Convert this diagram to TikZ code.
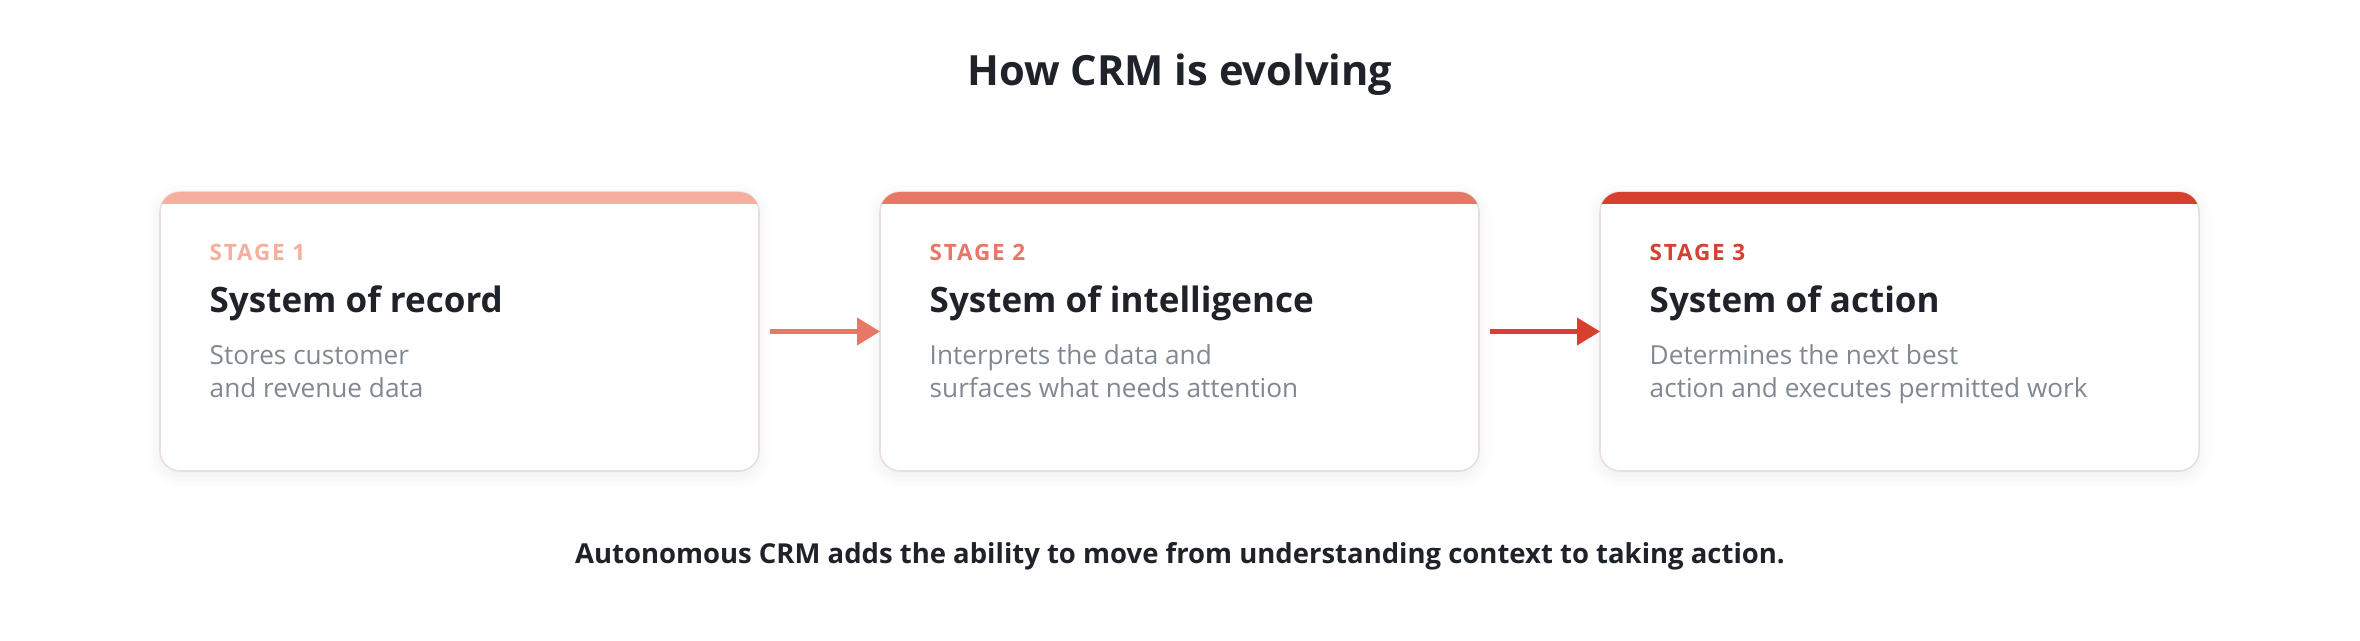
\documentclass[tikz,border=0pt]{standalone}
\usepackage{fontspec}
\setmainfont{Open Sans}
\definecolor{stageone}{RGB}{246, 175, 159}
\definecolor{stagetwo}{RGB}{231, 119, 103}
\definecolor{stagethree}{RGB}{214, 64, 47}
\definecolor{crmink}{RGB}{31, 35, 41}
\definecolor{crmmuted}{RGB}{128, 136, 145}
\definecolor{crmline}{RGB}{233, 222, 220}
\usetikzlibrary{positioning, arrows.meta, shadows.blur}

\begin{document}
\begin{tikzpicture}[x=1mm, y=1mm,
    card/.style={draw=crmline, line width=0.45pt, fill=white, rounded corners=2mm,
      minimum width=59.9mm, minimum height=27.9mm, inner sep=0pt, outer sep=0pt,
      blur shadow={shadow xshift=0mm, shadow yshift=-0.4mm, shadow blur radius=1.5mm, shadow opacity=7}},
    stagetag/.style={font=\fontsize{6.4}{7.5}\selectfont\bfseries\addfontfeature{LetterSpace=8}, inner sep=0pt, anchor=base west},
    cardtitle/.style={font=\fontsize{9.96}{12}\selectfont\bfseries, text=crmink, inner sep=0pt, anchor=base west},
    carddesc/.style={font=\fontsize{7.45}{9.39}\selectfont, text=crmmuted, align=left, inner sep=0pt, anchor=base west},
    flow/.style={line width=1.15pt, -{Triangle[length=2.3mm, width=2.7mm]}}]
        \useasboundingbox (0,0) rectangle (236,64);

        % Heading
        \node[font=\fontsize{11.85}{14}\selectfont\bfseries, text=crmink, inner sep=0pt, anchor=base] (heading) at (118,55.5) {How CRM is evolving};

        % Stage cards
        \node[card] (card1) at (45.95,30.85) {};
        \node[card, right=12.1mm of card1] (card2) {};
        \node[card, right=12.1mm of card2] (card3) {};

        % Colour bars
        \begin{scope}
            \clip[rounded corners=2mm] (card1.south west) rectangle (card1.north east);
            \fill[stageone] ([yshift=-1.2mm]card1.north west) rectangle (card1.north east);
        \end{scope}
        \begin{scope}
            \clip[rounded corners=2mm] (card2.south west) rectangle (card2.north east);
            \fill[stagetwo] ([yshift=-1.2mm]card2.north west) rectangle (card2.north east);
        \end{scope}
        \begin{scope}
            \clip[rounded corners=2mm] (card3.south west) rectangle (card3.north east);
            \fill[stagethree] ([yshift=-1.2mm]card3.north west) rectangle (card3.north east);
        \end{scope}

        % Card texts (the description is set by the baseline of its last line)
        \node[stagetag, text=stageone] (tag1) at ([xshift=4.9mm, yshift=-6.8mm]card1.north west) {STAGE 1};
        \node[cardtitle] (title1) at ([xshift=4.9mm, yshift=-12mm]card1.north west) {System of record};
        \node[carddesc] (desc1) at ([xshift=4.9mm, yshift=-20.5mm]card1.north west) {Stores customer\\and revenue data};

        \node[stagetag, text=stagetwo] (tag2) at ([xshift=4.9mm, yshift=-6.8mm]card2.north west) {STAGE 2};
        \node[cardtitle] (title2) at ([xshift=4.9mm, yshift=-12mm]card2.north west) {System of intelligence};
        \node[carddesc] (desc2) at ([xshift=4.9mm, yshift=-20.5mm]card2.north west) {Interprets the data and\\surfaces what needs attention};

        \node[stagetag, text=stagethree] (tag3) at ([xshift=4.9mm, yshift=-6.8mm]card3.north west) {STAGE 3};
        \node[cardtitle] (title3) at ([xshift=4.9mm, yshift=-12mm]card3.north west) {System of action};
        \node[carddesc] (desc3) at ([xshift=4.9mm, yshift=-20.5mm]card3.north west) {Determines the next best\\action and executes permitted work};

        % Arrows
        \draw[flow, stagetwo] ([xshift=1.1mm]card1.east) -- (card2.west);
        \draw[flow, stagethree] ([xshift=1.1mm]card2.east) -- (card3.west);

        % Summary
        \node[font=\fontsize{7.82}{9}\selectfont\bfseries, text=crmink, inner sep=0pt, anchor=base] (summary) at (118,7.7) {Autonomous CRM adds the ability to move from understanding context to taking action.};
    \end{tikzpicture}
\end{document}
